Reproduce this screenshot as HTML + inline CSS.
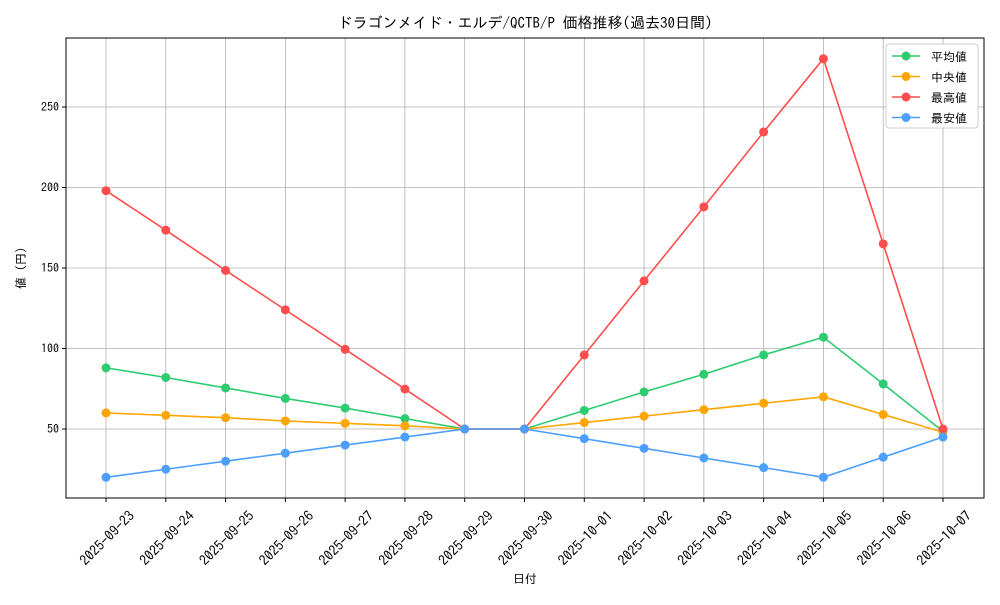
<!DOCTYPE html>
<html><head><meta charset="utf-8"><style>
html,body{margin:0;padding:0;background:#fff}
svg text{font-family:"IPAGothic","Noto Sans CJK JP",sans-serif;fill:#000}
</style></head><body>
<svg id="c" width="1000" height="600" xmlns="http://www.w3.org/2000/svg"></svg>
<script>
const categories=["2025-09-23","2025-09-24","2025-09-25","2025-09-26","2025-09-27","2025-09-28","2025-09-29","2025-09-30","2025-10-01","2025-10-02","2025-10-03","2025-10-04","2025-10-05","2025-10-06","2025-10-07"];
const avgValues=[88,82,75.5,69,63,56.5,50,50,61.5,73,84,96,107,78,48.5];
const medianValues=[60,58.5,57,55,53.5,52,50,50,54,58,62,66,70,59,48];
const maxValues=[198,173.5,148.5,124,99.5,74.8,50,50,96,142,188,234.5,280,165,50];
const minValues=[20,25,30,35,40,45,50,50,44,38,32,26,20,32.5,45];
const yTicks=[50,100,150,200,250];
const seriesNames=["平均値","中央値","最高値","最安値"];
const NS="http://www.w3.org/2000/svg",svg=document.getElementById('c');
const L=66,R=984,T=38,B=498;
const x=i=>106+i*(943-106)/(categories.length-1);
const y=v=>509.5-v*1.61;
function el(t,a,txt){const e=document.createElementNS(NS,t);for(const k in a)e.setAttribute(k,a[k]);if(txt!=null)e.textContent=txt;svg.appendChild(e);return e;}
categories.forEach((c,i)=>{
 const g=el('line',{x1:x(i),x2:x(i),y1:T,y2:B,stroke:'#b0b0b0','stroke-width':0.8});
 
 el('line',{x1:x(i),x2:x(i),y1:B,y2:B+4,stroke:'#000'});
 const cx=x(i)+1,cy=B+40;
 const t=el('text',{x:cx,y:cy+5,'font-size':14,'text-anchor':'middle',transform:`rotate(-45 ${cx} ${cy})`},c);
 
});
yTicks.forEach(v=>{
 const g=el('line',{x1:L,x2:R,y1:y(v),y2:y(v),stroke:'#b0b0b0','stroke-width':0.8});
 
 el('line',{x1:L-4,x2:L,y1:y(v),y2:y(v),stroke:'#000'});
 const t=el('text',{x:L-7,y:y(v)+4,'font-size':12,'text-anchor':'end'},v);
 
});
const colors=['#2ecc71','#ffa500','#ff4d4d','#4d9fff'];
const data=[avgValues,medianValues,maxValues,minValues];
const dn=['avg-series','median-series','max-series','min-series'];
data.forEach((d,s)=>{
 const p=el('polyline',{points:d.map((v,i)=>x(i)+','+y(v)).join(' '),fill:'none',stroke:colors[s],'stroke-width':1.6});
 
 d.forEach((v,i)=>{const c=el('circle',{cx:x(i),cy:y(v),r:4.5,fill:colors[s]});
  });
});
const f=el('rect',{x:L,y:T,width:R-L,height:B-T,fill:'none',stroke:'#000','stroke-width':1});

const tt=el('text',{x:525,y:28,'font-size':15,'text-anchor':'middle'},'ドラゴンメイド・エルデ/QCTB/P 価格推移(過去30日間)');

const xt=el('text',{x:525,y:583,'font-size':12,'text-anchor':'middle'},'日付');

const yt=el('text',{x:25,y:268,'font-size':12,'text-anchor':'middle',transform:'rotate(-90 25 268)'},'値 (円)');

const lg=el('rect',{x:886,y:44,width:92,height:84,fill:'#fff',stroke:'#ccc',rx:3});

seriesNames.forEach((n,s)=>{
 const yy=56+s*20.5;
 el('line',{x1:892,x2:920,y1:yy,y2:yy,stroke:colors[s],'stroke-width':1.6});
 el('circle',{cx:906,cy:yy,r:4.5,fill:colors[s]});
 const t=el('text',{x:931,y:yy+5,'font-size':12},n);
 
});
</script>
</body></html>
